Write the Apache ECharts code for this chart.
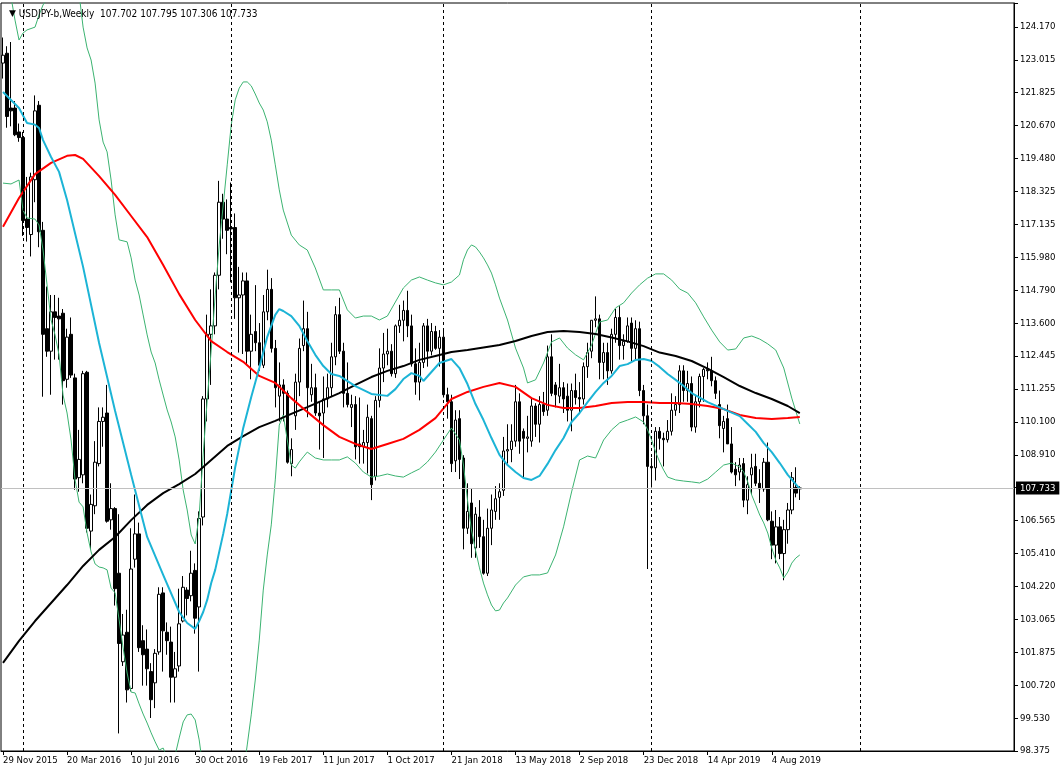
<!DOCTYPE html>
<html><head><meta charset="utf-8">
<script src="https://cdn.jsdelivr.net/npm/echarts@6/dist/echarts.min.js"></script>
<style>html,body{margin:0;padding:0;background:#fff}#c{width:1060px;height:774px}</style>
</head><body><div id="c"></div>
<script>
const FONT = "'DejaVu Sans Condensed','DejaVu Sans',sans-serif";
const symbolTitle = 'USDJPY-b,Weekly';
const lastQuote = ['107.702', '107.795', '107.306', '107.733'];
const currentPrice = 107.733;

// weekly categories (one per week, starting Sunday 29 Nov 2015)
const startDate = '2015-11-29';
const weekCount = 253;
const separatorWeeks = ['2016-01-03', '2017-01-01', '2018-01-07', '2019-01-06', '2020-01-05'];
const xTickLabels = ['29 Nov 2015', '20 Mar 2016', '10 Jul 2016', '30 Oct 2016', '19 Feb 2017', '11 Jun 2017',
  '1 Oct 2017', '21 Jan 2018', '13 May 2018', '2 Sep 2018', '23 Dec 2018', '14 Apr 2019', '4 Aug 2019'];
const yTickLabels = ['98.375', '99.530', '100.720', '101.875', '103.065', '104.220', '105.410', '106.565', '',
  '108.910', '110.100', '111.255', '112.445', '113.600', '114.790', '115.980', '117.135', '118.325', '119.480',
  '120.670', '121.825', '123.015', '124.170'];

// weekly bars [open, high, low, close]
const weeks2015 = [
  [122.85,123.76,122.30,123.13],[123.20,123.45,120.55,120.95],[121.25,123.60,120.60,121.15],
  [121.25,121.50,120.25,120.30],[120.40,120.70,120.05,120.20]];
const weeks2016 = [
  [120.20,120.40,116.70,117.25],[117.30,118.80,116.50,117.00],[116.75,118.95,115.97,118.80],
  [118.70,121.70,117.90,121.15],[121.35,121.50,116.30,116.85],[116.90,117.20,110.98,113.20],
  [113.40,114.90,112.40,112.60],[112.60,114.60,111.05,114.00],[114.00,114.60,112.30,113.80],
  [113.85,114.50,112.30,113.75],[113.95,114.10,110.70,111.55],[111.60,113.40,111.30,113.10],
  [113.20,113.80,111.65,111.75],[111.65,111.80,107.67,108.05],[108.10,109.80,107.60,108.75],
  [108.20,111.90,107.90,111.80],[111.85,111.90,106.15,106.30],[106.20,107.50,105.55,107.15],
  [107.10,109.40,106.80,108.65],[108.60,110.60,108.50,110.10],[110.10,110.60,109.20,110.25],
  [110.40,111.40,106.50,106.55],[106.60,107.90,106.25,107.00],[107.00,107.05,103.55,104.15],
  [104.70,106.80,99.00,102.20],[101.55,103.25,101.40,102.50],[102.60,103.40,100.10,100.55],
  [100.60,106.30,100.50,104.85],[105.20,107.50,104.90,106.10],[106.10,106.50,101.90,102.05],
  [102.30,102.85,100.70,101.80],[102.00,102.70,100.70,101.30],[101.20,101.50,99.55,100.20],
  [100.80,102.00,99.90,101.85],[101.90,104.20,101.80,103.95],[104.00,104.20,101.20,102.65],
  [102.60,102.95,101.80,102.30],[102.25,102.80,100.10,101.00],[101.00,101.90,100.10,101.30],
  [101.40,104.15,101.20,102.90],[103.00,104.60,102.95,104.20],[104.10,104.20,103.20,103.80],
  [103.90,105.50,103.70,104.70],[104.80,105.05,102.55,103.10],[103.50,106.90,101.20,106.65],
  [106.70,111.00,106.40,110.90],[110.90,113.90,110.10,113.20],[113.20,114.80,111.40,113.50],
  [113.50,115.40,113.20,115.30],[115.30,118.66,114.80,117.90],[117.90,118.20,116.60,117.30],
  [117.30,118.00,116.05,116.90]];
const weeks2017 = [
  [117.00,118.60,115.05,116.95],[117.00,117.50,113.75,114.50],[114.50,115.60,112.55,114.60],
  [114.60,115.40,112.50,115.10],[115.10,115.40,112.10,112.60],[112.60,113.90,111.60,113.20],
  [113.30,114.95,112.60,112.90],[112.90,113.60,111.90,112.10],[112.10,114.60,112.00,114.00],
  [114.00,115.50,113.70,114.80],[114.80,115.20,112.55,112.70],[112.70,113.00,110.60,111.30],
  [111.00,112.20,110.10,111.40],[111.40,111.60,110.10,111.10],[111.10,111.20,108.60,108.65],
  [108.60,109.50,108.15,109.10],[110.30,111.80,109.80,111.50],[111.50,113.05,111.00,112.70],
  [112.80,114.40,112.60,113.40],[113.40,114.00,110.25,111.30],[111.05,112.15,110.80,111.30],
  [111.30,111.80,110.30,110.40],[110.40,110.80,109.10,110.30],[110.40,111.70,108.80,110.90],
  [110.90,111.80,110.60,111.30],[111.30,112.90,111.00,112.40],[112.40,114.20,112.10,113.90],
  [113.90,114.50,112.50,112.60],[112.60,112.90,110.60,111.10],[111.10,112.20,110.60,110.70],
  [110.60,111.05,109.90,110.70],[110.70,111.00,108.75,109.20],[109.30,110.95,108.60,109.20],
  [109.20,109.80,108.60,109.35],[109.35,110.70,108.25,110.25],[110.20,110.30,107.30,107.85],
  [108.15,111.00,108.00,110.85],[110.85,112.70,110.60,112.00],[112.00,113.25,111.50,112.50],
  [112.50,113.40,112.10,112.60],[112.60,112.85,111.70,111.80],[111.80,113.55,111.65,113.50],
  [113.50,114.25,113.25,113.70],[113.70,114.40,112.95,114.05],[114.05,114.75,113.10,113.50],
  [113.50,113.90,112.05,112.15],[112.15,112.70,111.05,111.50],[111.50,112.90,110.85,112.20],
  [112.20,113.60,112.00,113.50],[113.50,113.75,112.05,112.60],[112.60,113.60,112.45,113.30],
  [113.30,113.50,112.65,112.70],[112.70,113.35,112.05,113.10]];
const weeks2018 = [
  [113.10,113.40,110.95,111.05],[111.05,111.30,110.20,110.80],[110.80,111.05,108.30,108.60],
  [108.70,110.50,108.30,110.15],[110.20,110.50,108.05,108.75],[108.80,108.90,105.55,106.30],
  [106.30,107.90,106.10,106.90],[107.20,107.70,105.25,105.75],[105.60,107.05,105.25,106.80],
  [106.70,107.30,105.60,106.00],[106.00,106.60,104.65,104.70],[104.70,107.00,104.60,106.30],
  [106.30,107.50,105.70,106.95],[106.90,107.80,106.60,107.35],[107.40,107.90,106.60,107.60],
  [107.65,109.55,107.45,109.05],[109.05,110.00,108.60,109.10],[109.10,110.00,108.65,109.40],
  [109.40,111.40,109.20,110.80],[110.80,111.10,108.95,109.40],[109.75,109.85,108.10,109.50],
  [109.50,110.30,109.00,109.55],[109.40,110.90,109.20,110.65],[110.65,110.75,109.55,110.00],
  [110.00,111.00,109.35,110.70],[110.70,111.15,110.30,110.45],[110.50,112.80,110.30,112.40],
  [112.40,113.20,111.00,111.10],[111.40,111.50,110.60,111.05],[111.00,112.15,110.75,111.30],
  [111.30,111.50,110.40,110.90],[111.00,111.45,110.10,110.50],[110.50,111.45,109.75,111.20],
  [111.20,111.80,110.70,110.95],[110.95,111.50,110.40,110.90],[110.90,112.20,110.70,112.05],
  [112.05,112.90,111.65,112.55],[112.60,113.70,112.35,113.70],[113.70,114.55,113.45,113.75],
  [113.75,113.90,111.60,112.20],[112.20,112.90,111.60,112.55],[112.55,112.90,111.40,111.90],
  [111.90,113.40,111.80,113.20],[113.20,114.10,112.90,113.80],[113.80,114.20,112.30,112.80],
  [112.80,113.20,112.30,112.95],[112.95,113.80,112.90,113.50],[113.60,113.80,112.25,112.70],
  [112.70,113.70,112.25,113.40],[113.40,113.65,111.00,111.20],[111.20,111.40,110.00,110.30],
  [110.30,110.70,104.85,108.50]];
const weeks2019 = [
  [108.50,108.80,107.75,108.45],[108.45,109.90,108.00,109.75],[109.75,109.90,109.10,109.50],
  [109.50,109.70,108.50,109.45],[109.45,110.15,109.35,109.75],[109.75,111.10,109.60,110.50],
  [110.50,111.00,110.30,110.70],[110.70,112.10,110.40,111.90],[111.90,112.10,110.80,111.20],
  [111.20,111.90,110.80,111.45],[111.45,111.70,109.75,109.90],[109.90,111.00,109.70,110.80],
  [110.80,111.80,110.60,111.70],[111.70,112.00,110.80,111.95],[111.95,112.20,111.60,111.90],
  [111.90,112.40,111.35,111.55],[111.55,111.70,110.90,111.10],[110.70,111.20,109.50,109.95],
  [109.85,110.30,109.00,110.10],[110.20,110.70,109.30,109.30],[109.30,109.90,108.25,108.30],
  [108.40,108.65,107.80,108.20],[108.30,108.80,108.00,108.55],[108.60,108.80,107.05,107.30],
  [107.30,108.15,106.80,107.85],[108.20,108.95,107.50,108.45],[108.50,108.95,107.80,107.90],
  [107.90,108.40,107.20,107.70],[107.70,108.80,107.60,108.65],[108.65,109.35,106.55,106.60],
  [106.55,106.90,105.20,105.70],[105.70,106.95,105.05,106.35],[106.35,106.70,105.20,105.40],
  [105.40,106.60,104.45,106.25],[106.25,107.20,105.75,106.95],[106.95,108.30,106.80,108.10],
  [107.75,108.47,107.40,107.55],[107.702,107.795,107.306,107.733]];

// indicator readings [week index, price]
const maFast = [[0,121.82],[4,121.25],[6,120.72],[8,120.66],[9,120.54],[10,120.11],[12,119.51],[14,118.98],[16,117.98],
  [20,115.60],[24,112.89],[28,110.47],[32,108.20],[36,105.99],[40,104.64],[44,103.32],[46,102.93],[48,102.72],
  [49,103.00],[50,103.32],[51,103.75],[52,104.35],[53,104.82],[54,105.46],[55,106.10],[56,106.81],[58,108.48],
  [60,109.87],[62,110.97],[64,112.00],[66,113.11],[68,113.89],[69,114.10],[70,114.03],[72,113.85],[74,113.50],
  [76,112.96],[78,112.47],[80,112.07],[82,111.79],[84,111.72],[88,111.36],[92,111.08],[96,111.01],[98,111.25],
  [100,111.61],[102,111.82],[104,111.72],[105,111.54],[107,111.86],[109,112.18],[112,112.32],[114,112.00],
  [116,111.43],[118,110.72],[120,110.15],[122,109.51],[124,108.91],[126,108.55],[128,108.30],[130,108.09],
  [132,108.02],[134,108.16],[136,108.59],[138,109.08],[140,109.51],[142,110.08],[144,110.40],[146,110.79],
  [148,111.15],[150,111.47],[152,111.72],[154,112.07],[156,112.14],[158,112.29],[160,112.32],[162,112.25],
  [164,112.04],[166,111.79],[168,111.58],[170,111.36],[172,111.11],[176,110.79],[180,110.54],[184,110.29],
  [186,110.01],[188,109.73],[190,109.33],[192,109.01],[194,108.62],[196,108.20],[199,107.70]];
const maMid = [[0,117.03],[4,118.05],[8,118.90],[12,119.30],[16,119.55],[18,119.58],[20,119.44],[24,118.83],[28,118.16],
  [32,117.41],[36,116.66],[40,115.67],[44,114.63],[48,113.71],[52,112.96],[56,112.57],[60,112.22],[64,111.72],
  [68,111.47],[72,110.93],[76,110.44],[80,109.97],[84,109.55],[88,109.30],[92,109.12],[96,109.30],[100,109.48],
  [104,109.80],[108,110.22],[112,110.90],[116,111.15],[120,111.33],[124,111.47],[128,111.33],[132,110.93],
  [136,110.69],[140,110.58],[144,110.58],[148,110.65],[152,110.76],[156,110.79],[160,110.79],[164,110.76],
  [168,110.76],[172,110.72],[176,110.65],[180,110.54],[184,110.33],[188,110.22],[192,110.19],[196,110.22],[199,110.26]];
const maSlow = [[0,101.51],[4,102.29],[8,103.00],[12,103.64],[16,104.28],[20,104.96],[24,105.53],[28,105.99],[32,106.59],
  [36,107.13],[40,107.55],[44,107.87],[48,108.23],[52,108.73],[56,109.23],[60,109.58],[64,109.90],[68,110.12],
  [72,110.37],[76,110.61],[80,110.86],[84,111.11],[88,111.40],[92,111.68],[96,111.90],[100,112.07],[104,112.29],
  [108,112.43],[112,112.57],[116,112.64],[120,112.73],[124,112.82],[128,112.96],[132,113.14],[136,113.28],
  [140,113.32],[144,113.28],[148,113.21],[152,113.09],[156,112.95],[160,112.78],[164,112.55],[168,112.43],
  [172,112.25],[176,111.98],[180,111.68],[184,111.36],[188,111.11],[192,110.90],[196,110.65],[199,110.40]];
const bandUpper = [[0,125.27],[1,125.38],[2,125.20],[3,124.38],[4,123.67],[5,123.92],[6,124.03],[8,124.13],[9,124.56],
  [10,124.92],[12,125.31],[14,125.27],[16,125.56],[18,125.81],[19,125.31],[20,124.13],[21,123.39],[22,122.96],
  [23,122.14],[24,120.83],[25,120.04],[26,119.69],[27,118.69],[28,117.45],[29,116.56],[31,116.49],[32,115.92],
  [33,115.13],[34,114.60],[35,113.89],[36,113.18],[37,112.57],[38,112.18],[39,111.58],[40,111.04],[41,110.51],
  [42,110.08],[43,109.55],[44,108.73],[45,107.66],[46,106.95],[47,106.06],[48,105.74],[49,106.77],[50,108.94],
  [51,110.86],[52,112.64],[53,114.60],[54,116.38],[55,117.80],[56,119.23],[57,120.65],[58,121.54],[59,121.96],
  [60,122.18],[61,122.18],[62,122.04],[63,121.75],[64,121.43],[65,121.18],[66,120.76],[67,120.11],[68,119.23],
  [69,118.34],[70,117.62],[72,116.73],[74,116.38],[76,116.20],[78,115.56],[80,114.78],[82,114.78],[84,114.78],
  [86,114.07],[88,113.78],[90,113.85],[92,113.85],[94,113.71],[96,113.85],[98,114.35],[100,114.85],[102,115.13],
  [104,115.24],[106,115.13],[108,115.03],[110,114.96],[112,115.06],[114,115.31],[115,115.85],[116,116.20],
  [117,116.38],[118,116.31],[119,116.13],[120,115.92],[121,115.67],[122,115.38],[123,114.96],[124,114.49],
  [126,113.71],[128,112.71],[130,112.00],[131,111.47],[133,111.58],[135,112.18],[137,112.93],[139,113.07],
  [141,112.71],[143,112.47],[145,112.29],[147,112.82],[149,113.64],[151,113.71],[153,114.14],[155,114.32],
  [157,114.67],[159,114.96],[161,115.20],[163,115.35],[165,115.35],[167,115.13],[169,114.81],[171,114.67],
  [173,114.32],[175,113.82],[177,113.35],[179,112.93],[181,112.64],[183,112.68],[185,113.07],[187,113.14],
  [189,113.03],[191,112.86],[193,112.64],[195,112.00],[197,110.93],[199,110.01]];
const bandLower = [[0,118.58],[2,118.55],[4,118.69],[5,117.62],[6,117.34],[8,117.30],[9,117.09],[10,116.20],[11,114.96],
  [12,113.71],[13,113.18],[14,112.47],[15,111.04],[16,110.40],[17,109.44],[18,108.02],[19,107.23],[20,107.06],
  [21,106.13],[22,105.46],[23,105.03],[24,104.92],[25,104.89],[26,104.82],[27,104.17],[28,104.00],[29,103.04],
  [30,102.04],[31,101.15],[32,100.47],[33,100.44],[34,100.05],[35,99.69],[36,99.37],[37,99.02],[38,98.70],
  [39,98.41],[40,98.48],[41,98.13],[42,97.88],[43,98.23],[44,98.84],[45,99.41],[46,99.66],[47,99.69],[48,99.48],
  [49,98.77],[50,97.70],[51,96.99],[52,96.06],[53,95.21],[54,94.32],[55,94.14],[56,94.39],[57,94.85],[58,95.21],
  [59,96.28],[60,97.56],[61,98.59],[62,99.66],[63,100.90],[64,102.32],[65,104.10],[66,105.35],[67,106.42],
  [68,108.02],[69,109.97],[70,110.33],[71,109.44],[72,108.55],[73,108.44],[74,108.66],[75,108.84],[76,109.01],
  [78,108.80],[80,108.73],[82,108.73],[84,108.73],[86,108.84],[88,108.62],[90,108.30],[92,108.12],[94,108.16],
  [96,108.23],[98,108.16],[100,108.12],[102,108.27],[104,108.41],[106,108.66],[108,109.01],[110,109.44],
  [112,109.87],[114,109.44],[115,108.55],[116,107.31],[117,106.24],[118,105.53],[119,104.89],[120,104.35],
  [121,103.93],[122,103.57],[123,103.36],[124,103.39],[125,103.64],[126,103.82],[128,104.28],[130,104.57],
  [132,104.64],[134,104.64],[136,104.71],[138,105.35],[140,106.35],[142,107.59],[144,108.73],[146,108.87],
  [148,108.80],[150,109.44],[152,109.80],[154,110.05],[156,110.15],[158,110.26],[160,110.08],[161,109.80],
  [162,109.44],[163,109.01],[164,108.66],[165,108.37],[166,108.12],[168,108.02],[170,107.98],[172,107.95],
  [174,107.91],[176,108.05],[178,108.30],[180,108.55],[182,108.62],[184,108.48],[185,108.30],[186,107.95],
  [187,107.48],[188,107.13],[189,106.77],[190,106.49],[191,106.13],[192,105.60],[193,105.17],[194,104.89],
  [195,104.53],[196,104.74],[197,105.06],[198,105.24],[199,105.35]];

// ---- build ----
const cats = [];
const t0 = Date.parse(startDate + 'T00:00:00Z');
for (let k = 0; k < weekCount; k++) cats.push(new Date(t0 + k * 7 * 86400000).toISOString().slice(0, 10));
const bars = [].concat(weeks2015, weeks2016, weeks2017, weeks2018, weeks2019);
const candleData = bars.map(b => [b[0], b[3], b[2], b[1]]);
const toLine = arr => arr.map(p => [cats[p[0]], p[1]]);

const yMin = 98.375, yMax = 124.988, yStep = yMin / 84;
const tickEvery = 16;
const isTick = i => i % tickEvery === 0 && i / tickEvery < xTickLabels.length;

const lineSeries = (name, data, color, width) => ({
  name, type: 'line', data: toLine(data), symbol: 'none', showSymbol: false, z: 3,
  lineStyle: { color, width }, silent: true, animation: false
});

const chart = echarts.init(document.getElementById('c'), null, { renderer: 'canvas' });
chart.setOption({
  backgroundColor: '#ffffff',
  animation: false,
  title: {
    text: '{t|▼} ' + symbolTitle + '  ' + lastQuote.join(' '),
    left: 4, top: 4,
    textStyle: { fontSize: 10, fontWeight: 'normal', color: '#000', fontFamily: FONT,
      rich: { t: { fontSize: 9, color: '#000', fontFamily: 'DejaVu Sans' } } }
  },
  grid: { left: 1, top: 3, width: 1013, height: 748, show: true, borderColor: '#000', borderWidth: 1, backgroundColor: '#fff' },
  xAxis: {
    type: 'category', data: cats, boundaryGap: true,
    axisLine: { show: true, lineStyle: { color: '#000', width: 1 } },
    axisTick: { show: true, alignWithLabel: true, interval: (i) => isTick(i), length: 4, lineStyle: { color: '#000' } },
    axisLabel: { interval: (i) => isTick(i), formatter: (v, i) => xTickLabels[i / tickEvery] || '',
      align: 'left', margin: 5, fontSize: 9.5, color: '#000', fontFamily: FONT },
    splitLine: { show: false }
  },
  yAxis: {
    type: 'value', position: 'right', min: yMin, max: yMax, interval: yStep, scale: true,
    axisLine: { show: true, lineStyle: { color: '#000', width: 1 } },
    axisTick: { show: true, length: 4, lineStyle: { color: '#000' } },
    axisLabel: { formatter: (v) => yTickLabels[Math.round((v - yMin) / yStep)] || '', margin: 6,
      fontSize: 9.5, color: '#000', fontFamily: FONT },
    splitLine: { show: false }
  },
  series: [
    {
      name: 'USDJPY', type: 'candlestick', data: candleData, barWidth: 3, z: 2,
      itemStyle: { color: '#ffffff', color0: '#000000', borderColor: '#000000', borderColor0: '#000000', borderWidth: 1 },
      markLine: {
        silent: true, symbol: ['none', 'none'], animation: false,
        data: [
          { yAxis: currentPrice, lineStyle: { color: '#c0c0c0', type: 'solid', width: 1 },
            label: { show: true, position: 'end', formatter: lastQuote[3], distance: 2, color: '#fff', backgroundColor: '#000',
              padding: [2, 4, 1, 4], fontSize: 9.5, fontFamily: FONT } },
          ...separatorWeeks.map(d => ({ xAxis: d, lineStyle: { color: '#000', type: [3, 3], width: 1 }, label: { show: false } }))
        ]
      }
    },
    lineSeries('Bands upper', bandUpper, '#3cb371', 1),
    lineSeries('Bands lower', bandLower, '#3cb371', 1),
    lineSeries('MA slow', maSlow, '#000000', 2),
    lineSeries('MA mid', maMid, '#ff0000', 2),
    lineSeries('MA fast', maFast, '#1cb4d6', 2)
  ]
});
</script></body></html>
